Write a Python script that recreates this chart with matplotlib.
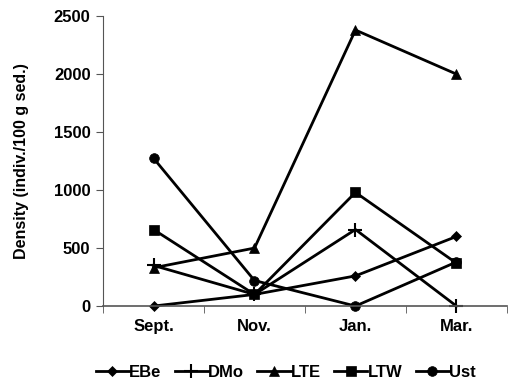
#!/usr/bin/env python3
"""Seasonal density of five sites (line chart with markers)."""

import matplotlib

matplotlib.use("Agg")
import matplotlib.pyplot as plt
import numpy as np

months = ["Sept.", "Nov.", "Jan.", "Mar."]
ebe = [0, 100, 260, 600]
dmo = [350, 100, 660, 0]
lte = [330, 500, 2380, 2000]
ltw = [660, 100, 980, 370]
ust = [1275, 220, 0, 380]

series = [
    ("EBe", ebe, "D", 5),
    ("DMo", dmo, "+", 10),
    ("LTE", lte, "^", 7),
    ("LTW", ltw, "s", 7),
    ("Ust", ust, "o", 7),
]

plt.rcParams["font.family"] = ["Liberation Sans", "DejaVu Sans"]

fig = plt.figure(figsize=(5.1, 3.84), dpi=100)
ax = fig.add_axes([0.202, 0.203, 0.792, 0.755])

x = np.arange(len(months))
for name, vals, marker, size in series:
    ax.plot(
        x,
        vals,
        color="black",
        lw=2.0,
        marker=marker,
        markersize=size,
        markeredgewidth=1.5 if marker == "+" else 0.5,
        label=name,
        clip_on=False,
    )

ax.set_xlim(-0.5, len(months) - 0.5)
ax.set_ylim(0, 2500)
ax.set_yticks(np.arange(0, 2501, 500))
ax.set_xticks(x)
ax.set_xticklabels(months, fontweight="bold", fontsize=12)
ax.set_xticks(np.arange(-0.5, len(months), 1.0), minor=True)
ax.tick_params(axis="x", which="major", length=0, pad=9)
ax.tick_params(axis="x", which="minor", length=5, direction="out", color="#555555")
ax.tick_params(axis="y", length=5, direction="out", color="#555555", labelsize=12, pad=4)
for lbl in ax.get_yticklabels():
    lbl.set_fontweight("bold")
ax.set_ylabel("Density (indiv./100 g sed.)", fontsize=11.5, fontweight="bold", labelpad=18)

for side in ("top", "right"):
    ax.spines[side].set_visible(False)
ax.spines["left"].set_color("#555555")
ax.spines["bottom"].set_color("#555555")
ax.spines["bottom"].set_linewidth(1.2)

fig.legend(
    loc="center",
    bbox_to_anchor=(0.56, 0.031),
    ncol=5,
    frameon=False,
    handlelength=2.0,
    columnspacing=0.8,
    handletextpad=0.0,
    prop={"weight": "bold", "size": 12},
)

fig.savefig("out.png", dpi=100)
